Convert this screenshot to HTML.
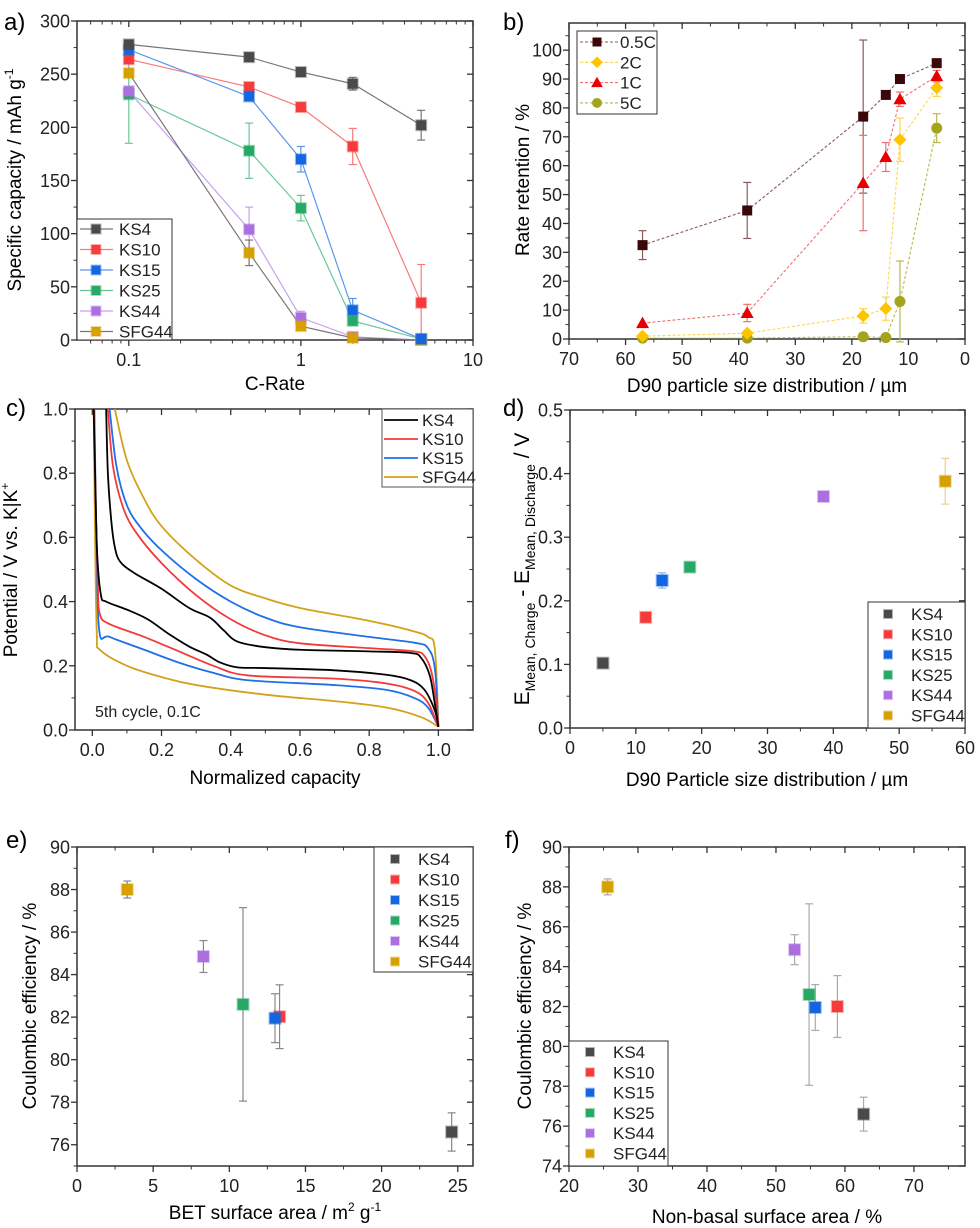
<!DOCTYPE html>
<html><head><meta charset="utf-8"><style>
html,body{margin:0;padding:0;background:#fff;}
svg{display:block;font-family:"Liberation Sans",Arial,sans-serif;}
</style></head><body>
<svg id="s" width="980" height="1228" viewBox="0 0 980 1228" xmlns="http://www.w3.org/2000/svg">
<text x="4" y="30" font-size="24">a)</text>
<text x="503" y="30" font-size="24">b)</text>
<text x="6" y="416" font-size="24">c)</text>
<text x="503" y="416" font-size="24">d)</text>
<text x="6" y="848" font-size="24">e)</text>
<text x="505" y="848" font-size="24">f)</text>
</svg>
<script>
const S=document.getElementById('s');const NS='http://www.w3.org/2000/svg';
const TF=18,TT=19,LF=17;
function el(t,a,txt){const e=document.createElementNS(NS,t);for(const k in a)e.setAttribute(k,a[k]);if(txt!==undefined)e.textContent=txt;S.appendChild(e);return e;}
function panel(c){
 const lg=c.log;
 const fx=v=>lg?Math.log10(v):v;
 const sx=v=>c.L+(fx(v)-fx(c.xr[0]))/(fx(c.xr[1])-fx(c.xr[0]))*(c.R-c.L);
 const sy=v=>c.B-(v-c.yr[0])/(c.yr[1]-c.yr[0])*(c.B-c.T);
 el('rect',{x:c.L,y:c.T,width:c.R-c.L,height:c.B-c.T,fill:'none',stroke:'#333','stroke-width':1.5});
 c.xt.forEach(v=>{const x=sx(v);el('line',{x1:x,x2:x,y1:c.B,y2:c.B+6,stroke:'#333','stroke-width':1.3});el('line',{x1:x,x2:x,y1:c.T,y2:c.T+6,stroke:'#333','stroke-width':1.3});
  el('text',{x:x,y:c.B+26,'font-size':TF,'text-anchor':'middle',fill:'#222'},c.xf?c.xf(v):v);});
 (c.xm||[]).forEach(v=>{const x=sx(v);el('line',{x1:x,x2:x,y1:c.B,y2:c.B+3.5,stroke:'#333'});el('line',{x1:x,x2:x,y1:c.T,y2:c.T+3.5,stroke:'#333'});});
 c.yt.forEach(v=>{const y=sy(v);el('line',{x1:c.L-6,x2:c.L,y1:y,y2:y,stroke:'#333','stroke-width':1.3});el('line',{x1:c.R-6,x2:c.R,y1:y,y2:y,stroke:'#333','stroke-width':1.3});
  el('text',{x:c.L-7,y:y+6.5,'font-size':TF,'text-anchor':'end',fill:'#222'},c.yf?c.yf(v):v);});
 (c.ym||[]).forEach(v=>{const y=sy(v);el('line',{x1:c.L-3.5,x2:c.L,y1:y,y2:y,stroke:'#333'});el('line',{x1:c.R-3.5,x2:c.R,y1:y,y2:y,stroke:'#333'});});
 return {sx,sy};
}
function range(a,b,s){const r=[];for(let v=a;v<=b+1e-9;v+=s)r.push(+v.toFixed(6));return r;}
function sq(x,y,col,sz){sz=sz||11;el('rect',{x:x-sz/2,y:y-sz/2,width:sz,height:sz,fill:col,stroke:col,'stroke-opacity':0.4,'stroke-width':2});}
function eb(x,y1,y2,col){el('line',{x1:x,x2:x,y1:y1,y2:y2,stroke:col,'stroke-width':1.2});el('line',{x1:x-4,x2:x+4,y1:y1,y2:y1,stroke:col,'stroke-width':1.2});el('line',{x1:x-4,x2:x+4,y1:y2,y2:y2,stroke:col,'stroke-width':1.2});}
function smooth(p){let d='M'+p[0][0]+','+p[0][1];for(let i=0;i<p.length-1;i++){const p0=p[Math.max(0,i-1)],p1=p[i],p2=p[i+1],p3=p[Math.min(p.length-1,i+2)];
 const c1=[p1[0]+(p2[0]-p0[0])/6,p1[1]+(p2[1]-p0[1])/6],c2=[p2[0]-(p3[0]-p1[0])/6,p2[1]-(p3[1]-p1[1])/6];d+=` C${c1[0]},${c1[1]} ${c2[0]},${c2[1]} ${p2[0]},${p2[1]}`;}return d;}
const C={KS4:'#4a4a4a',KS10:'#f43c3c',KS15:'#1466e0',KS25:'#27a866',KS44:'#ad6ee0',SFG44:'#d6a000'};
const names=['KS4','KS10','KS15','KS25','KS44','SFG44'];

// ---------- a
let A=panel({L:77,R:473,T:21,B:340,xr:[0.05,10],yr:[0,300],log:true,xt:[0.1,1,10],xm:[0.06,0.07,0.08,0.09,0.2,0.3,0.4,0.5,0.6,0.7,0.8,0.9,2,3,4,5,6,7,8,9],yt:range(0,300,50),ym:range(25,275,50)});
const xa=[0.1,0.5,1,2,5];
const da={KS4:[[278,2],[266,2],[252,4],[241,6],[202,14]],KS10:[[264,2],[238,2],[219,3],[182,17],[35,36]],KS15:[[273,2],[229,3],[170,12],[28,11],[1,0]],
KS25:[[231,46],[178,26],[124,12],[18,3],[1,0]],KS44:[[234,2],[104,21],[21,6],[3,1],[0,0]],SFG44:[[251,2],[82,12],[13,2],[2,1],[0,0]]};
const lineA={KS4:'#777',KS10:'#f87a7a',KS15:'#5a95ee',KS25:'#6cc796',KS44:'#c9a0f0',SFG44:'#777'};
names.forEach(n=>{el('polyline',{points:xa.map((x,i)=>A.sx(x)+','+A.sy(da[n][i][0])).join(' '),fill:'none',stroke:lineA[n],'stroke-width':1.2});});
names.forEach(n=>{xa.forEach((x,i)=>{const[v,e]=da[n][i];if(e>1)eb(A.sx(x),A.sy(v-e),A.sy(v+e),lineA[n]);});});
['KS25','KS44','SFG44','KS10','KS15','KS4'].forEach(n=>xa.forEach((x,i)=>sq(A.sx(x),A.sy(da[n][i][0]),C[n],10)));
el('rect',{x:77,y:219,width:95,height:121,fill:'#fff',stroke:'#333','stroke-width':1});
names.forEach((n,i)=>{const y=229+i*20.5;el('line',{x1:80,x2:113,y1:y,y2:y,stroke:lineA[n],'stroke-width':1.2});sq(96,y,C[n],9);el('text',{x:119,y:y+6,'font-size':LF,fill:'#222'},n);});
el('text',{x:275,y:390,'font-size':TT,'text-anchor':'middle'},'C-Rate');
let t=el('text',{x:0,y:0,'font-size':TT,'text-anchor':'middle',transform:'translate(21,180) rotate(-90)'},'Specific capacity / mAh g');
let ts=el('tspan',{'font-size':12,dy:-8},'-1');t.appendChild(ts);

// ---------- b
let B=panel({L:569,R:965,T:23,B:339,xr:[70,0],yr:[0,109.4],xt:range(0,70,10),xm:range(5,65,10),yt:range(0,100,10),ym:range(5,105,10)});
const xb=[57,38.5,18,14,11.5,5];
const db={'0.5C':{c:'#3a0808',l:'#8a5a5a',m:'s',d:[[32.5,5],[44.5,9.7],[77,26.5],[84.5,1],[90,0.5],[95.5,0.5]]},
'2C':{c:'#ffc400',l:'#ffd54a',m:'d',d:[[1,0],[2,0],[8,2.5],[10.5,4],[69,7.5],[87,3]]},
'1C':{c:'#e80000',l:'#f07070',m:'t',d:[[5.5,0],[9,3],[54,16.5],[63,5],[83,2.5],[91,2]]},
'5C':{c:'#a3a31c',l:'#b8b84a',m:'c',d:[[0.3,0],[0.3,0],[0.8,0],[0.5,0],[13,14],[73,5]]}};
function mk(m,x,y,c,s){s=s||1;if(m=='s')el('rect',{x:x-5*s,y:y-5*s,width:10*s,height:10*s,fill:c});
 else if(m=='d')el('polygon',{points:`${x},${y-6.5*s} ${x+6.5*s},${y} ${x},${y+6.5*s} ${x-6.5*s},${y}`,fill:c});
 else if(m=='t')el('polygon',{points:`${x},${y-6.5*s} ${x+6.5*s},${y+5*s} ${x-6.5*s},${y+5*s}`,fill:c});
 else el('circle',{cx:x,cy:y,r:5.5*s,fill:c});}
const ordB=['0.5C','2C','1C','5C'];
ordB.forEach(k=>{const s=db[k];el('polyline',{points:xb.map((x,i)=>B.sx(x)+','+B.sy(s.d[i][0])).join(' '),fill:'none',stroke:s.l,'stroke-width':1.1,'stroke-dasharray':'3,2'});
 xb.forEach((x,i)=>{const[v,e]=s.d[i];if(e>0)eb(B.sx(x),B.sy(v-e),B.sy(v+e),s.l);});});
['5C','2C','1C','0.5C'].forEach(k=>{const s=db[k];xb.forEach((x,i)=>mk(s.m,B.sx(x),B.sy(s.d[i][0]),s.c));});
el('rect',{x:577,y:31,width:80,height:83,fill:'#fff',stroke:'#333','stroke-width':1});
ordB.forEach((k,i)=>{const y=42+i*20.3;el('line',{x1:580,x2:620,y1:y,y2:y,stroke:db[k].l,'stroke-width':1.1,'stroke-dasharray':'3,2'});mk(db[k].m,597,y,db[k].c,0.9);el('text',{x:620,y:y+6,'font-size':LF,fill:'#222'},k);});
el('text',{x:767,y:392,'font-size':TT,'text-anchor':'middle'},'D90 particle size distribution / µm');
el('text',{x:0,y:0,'font-size':TT,'text-anchor':'middle',transform:'translate(529,180) rotate(-90)'},'Rate retention / %');

// ---------- c
let Cc=panel({L:75,R:473,T:409,B:730,xr:[-0.05,1.1],yr:[0,1],xt:[0,0.2,0.4,0.6,0.8,1.0],xm:[0.1,0.3,0.5,0.7,0.9],yt:[0,0.2,0.4,0.6,0.8,1.0],ym:[0.1,0.3,0.5,0.7,0.9],xf:v=>v.toFixed(1),yf:v=>v.toFixed(1)});
const cc={
KS4:{c:'#000',u:[[0.04,1.0],[0.045,0.8],[0.055,0.65],[0.065,0.57],[0.08,0.525],[0.12,0.49],[0.2,0.44],[0.28,0.38],[0.34,0.35],[0.38,0.31],[0.42,0.275],[0.5,0.258],[0.6,0.25],[0.8,0.245],[0.92,0.24],[0.95,0.225],[0.975,0.17],[0.99,0.08],[1.0,0.01]],
 l:[[0.004,1.0],[0.008,0.8],[0.014,0.55],[0.025,0.42],[0.04,0.4],[0.1,0.375],[0.16,0.345],[0.22,0.3],[0.28,0.26],[0.33,0.235],[0.37,0.21],[0.42,0.195],[0.5,0.193],[0.7,0.186],[0.85,0.172],[0.92,0.155],[0.96,0.125],[0.99,0.06],[1.0,0.01]]},
KS10:{c:'#f23a3a',u:[[0.045,1.0],[0.06,0.82],[0.09,0.69],[0.13,0.61],[0.2,0.52],[0.3,0.42],[0.4,0.345],[0.5,0.295],[0.6,0.27],[0.8,0.255],[0.93,0.245],[0.96,0.23],[0.98,0.18],[0.995,0.08],[1.0,0.01]],
 l:[[0.005,1.0],[0.01,0.7],[0.016,0.45],[0.022,0.36],[0.05,0.33],[0.15,0.29],[0.25,0.245],[0.35,0.2],[0.45,0.17],[0.7,0.16],[0.85,0.145],[0.93,0.122],[0.97,0.085],[1.0,0.01]]},
KS15:{c:'#1f6fe6',u:[[0.05,1.0],[0.07,0.82],[0.1,0.7],[0.14,0.63],[0.2,0.56],[0.3,0.47],[0.4,0.4],[0.5,0.35],[0.6,0.32],[0.8,0.29],[0.93,0.272],[0.97,0.255],[0.99,0.19],[1.0,0.01]],
 l:[[0.006,1.0],[0.012,0.6],[0.02,0.31],[0.05,0.29],[0.15,0.25],[0.25,0.21],[0.35,0.178],[0.45,0.155],[0.7,0.14],[0.85,0.125],[0.93,0.1],[0.97,0.07],[1.0,0.01]]},
SFG44:{c:'#d2a21c',u:[[0.065,1.0],[0.1,0.84],[0.15,0.72],[0.2,0.635],[0.3,0.53],[0.4,0.45],[0.5,0.41],[0.6,0.38],[0.8,0.34],[0.92,0.31],[0.97,0.29],[0.99,0.25],[1.0,0.01]],
 l:[[0.004,1.0],[0.008,0.6],[0.013,0.3],[0.022,0.25],[0.1,0.2],[0.2,0.165],[0.3,0.14],[0.5,0.11],[0.7,0.09],[0.85,0.07],[0.95,0.04],[1.0,0.01]]}};
['SFG44','KS15','KS10','KS4'].forEach(n=>{['u','l'].forEach(k=>el('path',{d:smooth(cc[n][k].map(p=>[Cc.sx(p[0]),Cc.sy(p[1])])),fill:'none',stroke:cc[n].c,'stroke-width':1.8,'stroke-linejoin':'round'}));});
el('rect',{x:382,y:409,width:91,height:78,fill:'#fff',stroke:'#555','stroke-width':1});
['KS4','KS10','KS15','SFG44'].forEach((n,i)=>{const y=420+i*19;el('line',{x1:384,x2:418,y1:y,y2:y,stroke:cc[n].c,'stroke-width':1.8});el('text',{x:422,y:y+6,'font-size':LF,fill:'#222'},n);});
el('text',{x:95,y:717,'font-size':16,fill:'#222'},'5th cycle, 0.1C');
el('text',{x:275,y:784,'font-size':TT,'text-anchor':'middle'},'Normalized capacity');
t=el('text',{x:0,y:0,'font-size':TT,'text-anchor':'middle',transform:'translate(17,570) rotate(-90)'},'Potential / V vs. K|K');
t.appendChild(document.createElementNS(NS,'tspan'));t.lastChild.setAttribute('font-size',12);t.lastChild.setAttribute('dy',-8);t.lastChild.textContent='+';

// ---------- d
let D=panel({L:570,R:965,T:410,B:728,xr:[0,60],yr:[0,0.5],xt:range(0,60,10),xm:range(5,55,10),yt:[0,0.1,0.2,0.3,0.4,0.5],ym:[0.05,0.15,0.25,0.35,0.45],yf:v=>v.toFixed(1)});
const dd={KS4:[5,0.102,0.004],KS10:[11.5,0.174,0.003],KS15:[14,0.232,0.012],KS25:[18.2,0.253,0.003],KS44:[38.5,0.364,0.004],SFG44:[57,0.388,0.036]};
names.forEach(n=>{const[x,y,e]=dd[n];if(e>0.005)eb(D.sx(x),D.sy(y-e),D.sy(y+e),n=='SFG44'?'#ecd08a':'#8fb6f0');sq(D.sx(x),D.sy(y),C[n],11);});
el('rect',{x:868,y:602,width:97,height:126,fill:'#fff',stroke:'#333','stroke-width':1});
names.forEach((n,i)=>{const y=614+i*20.3;sq(888,y,C[n],8);el('text',{x:911,y:y+6,'font-size':LF,fill:'#222'},n);});
el('text',{x:767,y:786,'font-size':TT,'text-anchor':'middle'},'D90 Particle size distribution / µm');
t=el('text',{x:0,y:0,'font-size':21,'text-anchor':'middle',transform:'translate(529,569) rotate(-90)'});
[['E',21,0],['Mean, Charge',14,6],[' - E',21,-6],['Mean, Discharge',14,6],[' / V',21,-6]].forEach(([s,f,dy])=>{const sp=document.createElementNS(NS,'tspan');sp.setAttribute('font-size',f);sp.setAttribute('dy',dy);sp.textContent=s;t.appendChild(sp);});

// ---------- e
let E=panel({L:77,R:473,T:847,B:1166,xr:[0,26],yr:[75,90],xt:range(0,25,5),xm:[2.5,7.5,12.5,17.5,22.5],yt:range(76,90,2),ym:range(75,89,2)});
const de={SFG44:[3.3,88,0.4,0.4],KS44:[8.3,84.85,0.75,0.75],KS25:[10.9,82.6,4.55,4.55],KS15:[13,81.95,1.15,1.15],KS10:[13.3,82.02,1.5,1.5],KS4:[24.6,76.6,0.9,0.9]};
names.forEach(n=>{const[x,y,a,b]=de[n];eb(E.sx(x),E.sy(y-a),E.sy(y+b),'#888');});
['SFG44','KS44','KS25','KS10','KS15','KS4'].forEach(n=>{const[x,y]=de[n];sq(E.sx(x),E.sy(y),C[n],11);});
el('rect',{x:374,y:847,width:99,height:125,fill:'#fff',stroke:'#333','stroke-width':1});
names.forEach((n,i)=>{const y=859+i*20.5;sq(395,y,C[n],8);el('text',{x:418,y:y+6,'font-size':LF,fill:'#222'},n);});
t=el('text',{x:275,y:1219,'font-size':TT,'text-anchor':'middle'},'BET surface area / m');
[['2',12,-8],[' g',TT,8],['-1',12,-8]].forEach(([s,f,dy])=>{const sp=document.createElementNS(NS,'tspan');sp.setAttribute('font-size',f);sp.setAttribute('dy',dy);sp.textContent=s;t.appendChild(sp);});
el('text',{x:0,y:0,'font-size':TT,'text-anchor':'middle',transform:'translate(36,1006) rotate(-90)'},'Coulombic efficiency / %');

// ---------- f
let F=panel({L:569,R:965,T:847,B:1166,xr:[20,77.4],yr:[74,90],xt:range(20,70,10),xm:range(25,75,10),yt:range(74,90,2),ym:range(75,89,2)});
const df={SFG44:[25.6,88,0.4],KS44:[52.7,84.85,0.75],KS25:[54.8,82.6,4.55],KS15:[55.7,81.95,1.15],KS10:[58.9,82,1.55],KS4:[62.7,76.6,0.85]};
names.forEach(n=>{const[x,y,e]=df[n];eb(F.sx(x),F.sy(y-e),F.sy(y+e),'#aaa');});
['SFG44','KS44','KS25','KS10','KS15','KS4'].forEach(n=>{const[x,y]=df[n];sq(F.sx(x),F.sy(y),C[n],11);});
el('rect',{x:569,y:1041,width:99,height:125,fill:'#fff',stroke:'#333','stroke-width':1});
names.forEach((n,i)=>{const y=1052+i*20.3;sq(590,y,C[n],8);el('text',{x:613,y:y+6,'font-size':LF,fill:'#222'},n);});
el('text',{x:767,y:1223,'font-size':TT,'text-anchor':'middle'},'Non-basal surface area / %');
el('text',{x:0,y:0,'font-size':TT,'text-anchor':'middle',transform:'translate(531,1006) rotate(-90)'},'Coulombic efficiency / %');
</script>
</body></html>
